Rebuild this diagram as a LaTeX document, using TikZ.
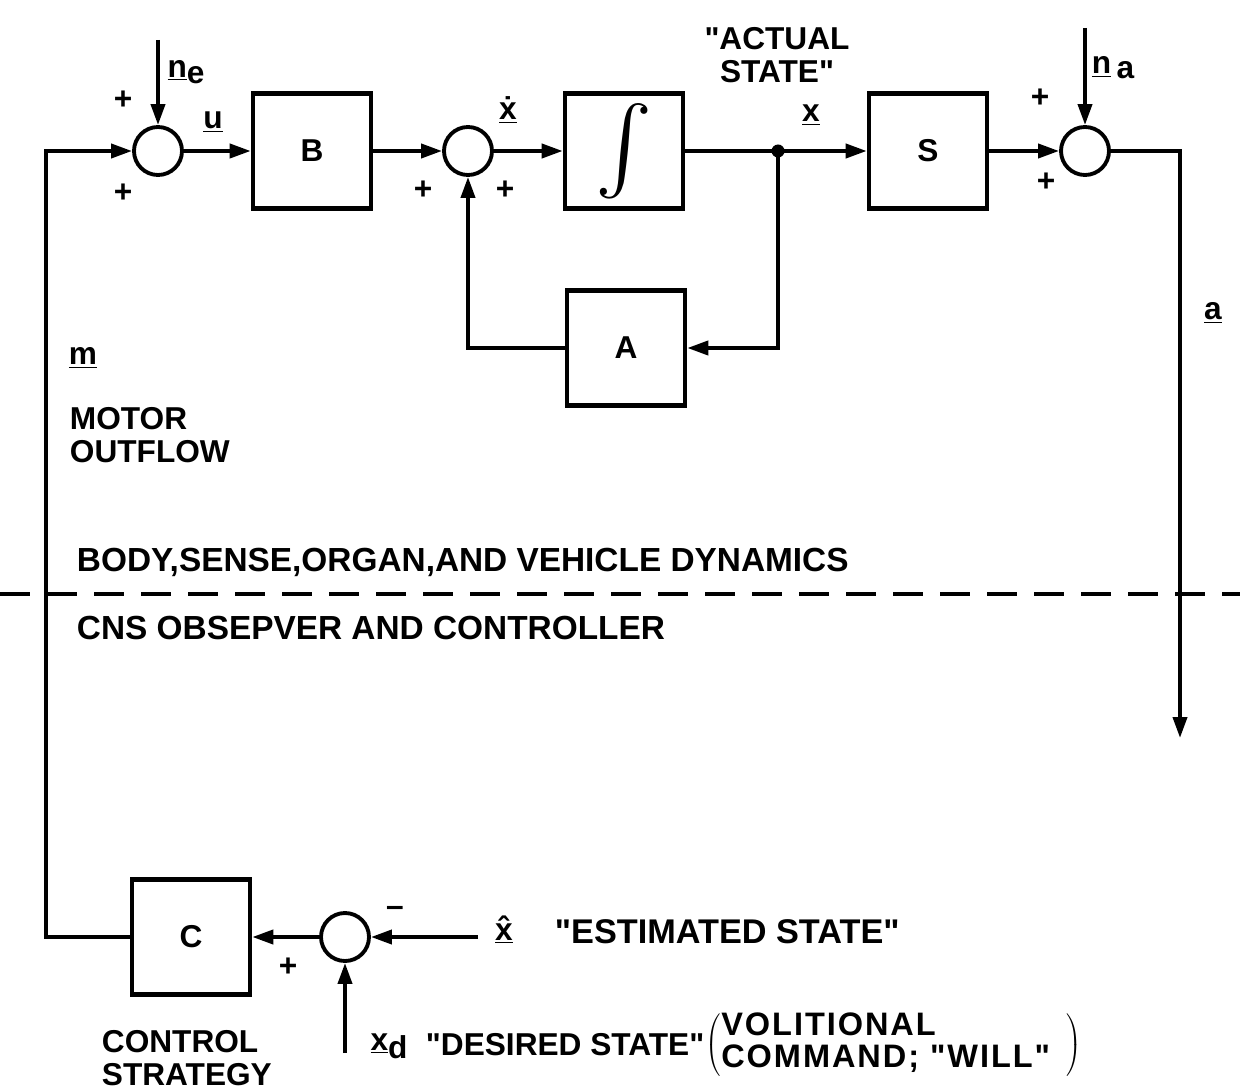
\documentclass[tikz,border=0pt]{standalone}
\usepackage{fontspec}
\setmainfont{Liberation Sans}[Ligatures=TeXOff]
\usetikzlibrary{arrows.meta}
\usetikzlibrary{positioning}

\newcommand{\uv}[1]{\underline{#1}}
\newcommand{\qt}{\symbol{34}}

\begin{document}
\begin{tikzpicture}[x=0.2mm, y=-0.2mm, line width=2.2pt]
    \tikzset{
        every node/.style={font=\fontsize{18}{19}\selectfont\bfseries},
        block/.style={draw, line width=2.6pt, minimum width=23.6mm, minimum height=23mm},
        sum/.style={draw, circle, minimum size=9.6mm, inner sep=0pt},
        arr/.style={-{Triangle[length=4.2mm,width=2.8mm]}},
        tag/.style={anchor=west, align=left, inner sep=0pt},
        note/.style={tag, font=\fontsize{19}{18}\selectfont\bfseries}
    }
    \useasboundingbox (0,0) rectangle (1240,1090);

    % draw top row: summers and blocks
    \node[sum] (sum1) at (158,151) {};
    \node[block] (B) at (312,151) {B};
    \node[sum] (sum2) at (468,151) {};
    \node[block] (integ) at (624,151) {\resizebox{!}{17mm}{$\int$}};
    \coordinate (jdot) at (778,151);
    \node[block] (S) at (928,151) {S};
    \node[sum] (sum3) at (1085,151) {};
    \node[block] (A) at (626,348) {A};

    % draw bottom row
    \node[block] (C) at (191,937) {C};
    \node[sum] (sum4) at (345,937) {};

    % free ends of the connectors
    \coordinate (nein) at (158,40);
    \coordinate (nain) at (1085,28);
    \coordinate (mtop) at (46,151);
    \coordinate (aturn) at (1180,151);
    \coordinate (aend) at (1180,738);
    \coordinate (xhatin) at (478,937);
    \coordinate (xdin) at (345,1053);

    % draw forward path
    \draw[arr] (nein) -- (sum1.north);
    \draw[arr] (sum1) -- (B);
    \draw[arr] (B) -- (sum2);
    \draw[arr] (sum2) -- (integ);
    \draw[arr] (integ) -- (S);
    \fill (jdot) circle (1.3mm);
    \draw[arr] (S) -- (sum3);
    \draw[arr] (nain) -- (sum3.north);
    \draw[arr] (sum3.east) -- (aturn) -- (aend);

    % draw feedback through A
    \draw[arr] (jdot) |- (A.east);
    \draw[arr] (A.west) -| (sum2.south);

    % draw controller loop
    \draw[arr] (xhatin) -- (sum4.east);
    \draw[arr] (xdin) -- (sum4.south);
    \draw[arr] (sum4) -- (C);
    \draw[arr] (C.west) -| (mtop) -- (sum1.west);

    % signs at the summers
    \node at (123,100) {+};
    \node at (123,193) {+};
    \node at (423,190) {+};
    \node at (505,190) {+};
    \node at (1040,98) {+};
    \node at (1046,182) {+};
    \node at (395,911) {\textendash};
    \node at (288,967) {+};

    % signal labels
    \node at (186,72) {\uv{n}\raisebox{-0.4ex}{e}};
    \node at (213,122) {\uv{u}};
    \node at (508,110) {\uv{\.{x}}};
    \node at (811,115) {\uv{x}};
    \node at (1113,68) {\uv{n}\,\raisebox{-0.3ex}{a}};
    \node at (1213,313) {\uv{a}};
    \node at (83,358) {\uv{m}};
    \node at (504,930) {\uv{\^{x}}};
    \node at (389,1046) {\uv{x}\raisebox{-0.5ex}{d}};

    % text notes
    \node[align=center] at (777,55) {\qt ACTUAL\\STATE\qt};
    \node[tag, anchor=north west] at (68,405) {MOTOR\\OUTFLOW};
    \node[note] at (75,562) {BODY,SENSE,ORGAN,AND VEHICLE DYNAMICS};
    \draw[dash pattern=on 6mm off 3.4mm] (0,594) -- (1240,594);
    \node[note] at (75,628) {CNS OBSEPVER AND CONTROLLER};
    \node[tag, anchor=north west] at (100,1028) {CONTROL\\STRATEGY};
    \node[note, font=\fontsize{19.5}{18}\selectfont\bfseries] at (553,932) {\qt ESTIMATED STATE\qt};
    \node[tag] at (424,1045) {\qt DESIRED STATE\qt};
    \node[tag, font=\fontsize{18.5}{18}\selectfont\bfseries\addfontfeature{LetterSpace=6}] at (704,1045)
        {$\left(\vcenter{\hbox{\begin{tabular}{@{}l@{}}VOLITIONAL\\COMMAND; \qt WILL\qt\end{tabular}}}\enspace\right)$};

\end{tikzpicture}
\end{document}
